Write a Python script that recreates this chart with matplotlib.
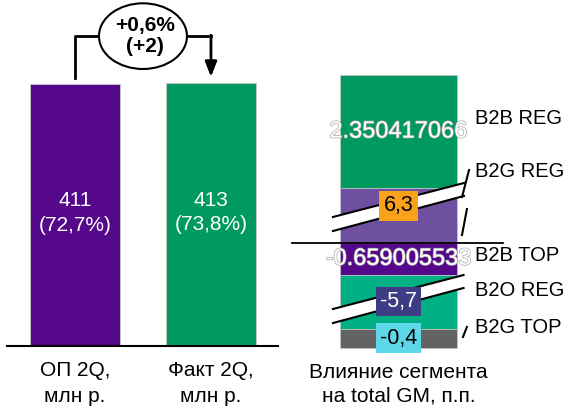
import numpy as np
import matplotlib.pyplot as plt
from matplotlib.patches import Ellipse, Polygon
import matplotlib.patheffects as pe

plt.rcParams['font.family'] = ['Liberation Sans', 'DejaVu Sans']

# left panel: plan vs fact, mln rub
plan_labels = ['ОП 2Q,\nмлн р.', 'Факт 2Q,\nмлн р.']
plan_values = [411, 413]
plan_shares = [72.7, 73.8]
plan_colors = ['#55088A', '#00995F']
delta_pct = 0.6

# right panel: segment contribution to total GM, p.p.
seg_names = ['B2B REG', 'B2G REG', 'B2B TOP', 'B2O REG', 'B2G TOP']
seg_values = [2.350417066, 6.3, -0.659005533, -5.7, -0.4]
seg_hidden = [0, 5.154, 0, 4.575, 0]   # part of the segment cut out by the axis break
seg_colors = ['#00995F', '#6F4FA0', '#55088A', '#00B084', '#636363']
seg_label_y = [2.604, 1.5, -0.25, -0.979, -1.75]


def fmt(v):
    return ('%.1f' % v).replace('.', ',')


fig = plt.figure(figsize=(5.72, 4.09), dpi=100)

# ---------- left panel ----------
ax1 = fig.add_axes([0, 0, 290 / 572, 1])
ax1.set_xlim(-0.551, 1.581)
ax1.set_ylim(-98.8, 542.7)
ax1.axis('off')

x = np.arange(len(plan_values))
ax1.bar(x, plan_values, width=0.662, color=plan_colors, edgecolor='#c8c8c8', linewidth=0.6, zorder=2)
ax1.plot([-0.5, 1.493], [0, 0], color='black', lw=1.5, zorder=3)

for xi, v, s in zip(x, plan_values, plan_shares):
    ax1.text(xi, v / 2 + 3, '%d\n(%s%%)' % (v, fmt(s)), ha='center', va='center',
             color='white', fontsize=15, linespacing=1.35)
for xi, lab in zip(x, plan_labels):
    ax1.text(xi, -59, lab, ha='center', va='center', fontsize=15, linespacing=1.45)

# bracket with arrow from plan to fact
yb = 486
ax1.plot([0, 0, 0.5], [plan_values[0] + 9, yb, yb], color='black', lw=2, zorder=3)
ax1.plot([0.5, 1], [yb, yb], color='black', lw=2, zorder=3)
ax1.annotate('', xy=(1, plan_values[1] + 9), xytext=(1, yb + 1.5),
             arrowprops=dict(arrowstyle='-|>,head_length=0.9,head_width=0.35',
                             color='black', lw=2, shrinkA=0, shrinkB=0))
ax1.add_patch(Ellipse((0.5, yb), 0.647, 103, facecolor='white', edgecolor='black', lw=1.5, zorder=4))
ax1.text(0.515, yb, '+%s%%\n(+%d)' % (fmt(delta_pct), plan_values[1] - plan_values[0]),
         ha='center', va='center', fontsize=15, fontweight='bold', linespacing=1.1, zorder=5)

# ---------- right panel ----------
ax2 = fig.add_axes([290 / 572, 0, 282 / 572, 1])
ax2.set_xlim(-0.927, 1.483)
ax2.set_ylim(-3.458, 5.0625)
ax2.axis('off')

pos_base, neg_base = 0.0, 0.0
order = [1, 0, 2, 3, 4]   # positives stack up from zero, negatives down
centers = {}
for i in order:
    v = seg_values[i]
    h = np.sign(v) * (abs(v) - seg_hidden[i])
    if v >= 0:
        ax2.bar(0, h, bottom=pos_base, width=1, color=seg_colors[i], edgecolor='#c8c8c8', linewidth=0.5, zorder=2)
        centers[i] = pos_base + h / 2
        pos_base += h
    else:
        ax2.bar(0, h, bottom=neg_base, width=1, color=seg_colors[i], edgecolor='#c8c8c8', linewidth=0.5, zorder=2)
        centers[i] = neg_base + h / 2
        neg_base += h

ax2.plot([-0.91, 0.893], [0, 0], color='black', lw=1.3, zorder=3)

# axis breaks
breaks = [((-0.56, 0.542), (0.56, 1.25), (-0.56, 0.25), (0.56, 0.98)),
          ((-0.56, -1.375), (0.556, -0.667), (-0.56, -1.667), (0.556, -0.9375))]
for ul, ur, ll, lr in breaks:
    ax2.add_patch(Polygon([ul, ur, lr, ll], closed=True, facecolor='white', edgecolor='none', zorder=4))
    ax2.plot([ul[0], ur[0]], [ul[1], ur[1]], color='black', lw=1.5, zorder=5)
    ax2.plot([ll[0], lr[0]], [ll[1], lr[1]], color='black', lw=1.5, zorder=5)

# broken leader lines
for xs, ys in [([0.543, 0.603], [0.958, 1.521]),
               ([0.543, 0.585], [0.167, 0.708]),
               ([0.551, 0.585], [-1.958, -1.75])]:
    ax2.plot(xs, ys, color='black', lw=1.5, zorder=5)

outline = [pe.Stroke(linewidth=1.0, foreground='#a8a8a8'), pe.Normal()]
box_style = {1: ('#F9A11B', 'black'), 3: ('#3F3C86', 'white'), 4: ('#5ED8E8', 'black')}
label_dy = {1: 0.2}
for i, v in enumerate(seg_values):
    y = centers[i] + label_dy.get(i, 0)
    if i in box_style:
        fc, tc = box_style[i]
        ax2.text(0, y, fmt(v), ha='center', va='center', fontsize=15.5, color=tc, zorder=6,
                 bbox=dict(boxstyle='square,pad=0.2', facecolor=fc, edgecolor='none'))
    else:
        ax2.text(0, y, str(v), ha='center', va='center', fontsize=17, color='white',
                 path_effects=outline, zorder=6)

for name, y in zip(seg_names, seg_label_y):
    ax2.text(0.654, y, name, ha='left', va='center', fontsize=14.5, zorder=6)

ax2.text(0, -2.94, 'Влияние сегмента\nна total GM, п.п.', ha='center', va='center',
         fontsize=15, linespacing=1.3)

plt.savefig('out.png', dpi=100)
